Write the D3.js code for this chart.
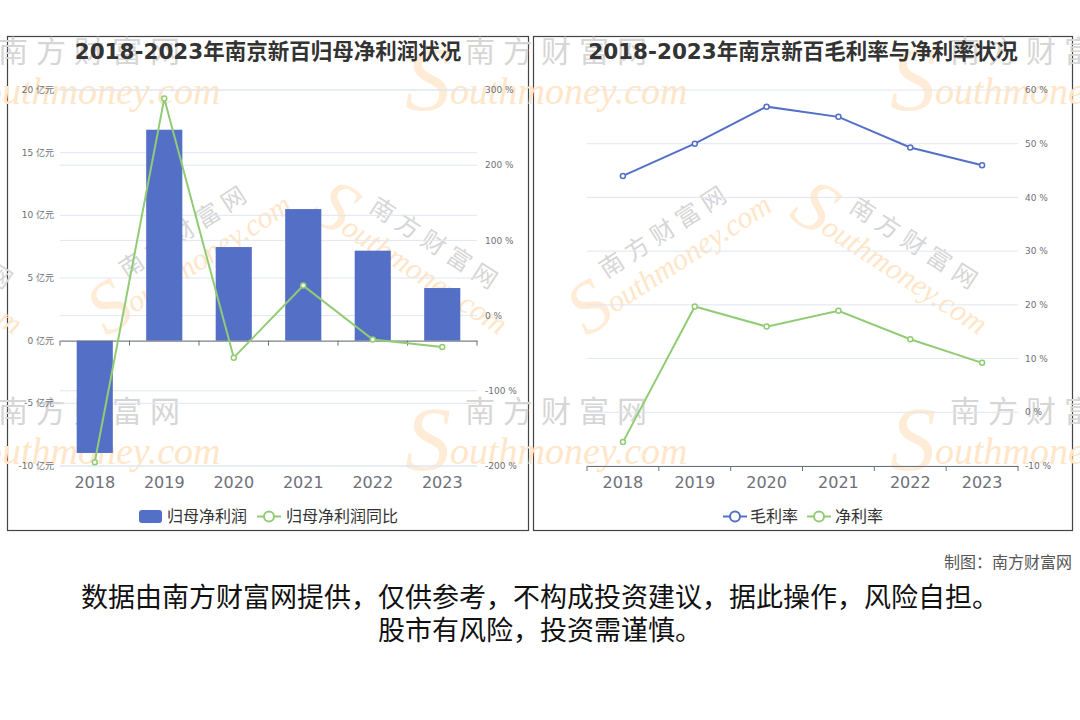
<!DOCTYPE html>
<html><head><meta charset="utf-8">
<script src="https://cdn.jsdelivr.net/npm/d3@7"></script>
<style>
html,body{margin:0;padding:0;background:#fff;}
svg{display:block;font-family:"DejaVu Sans","Noto Sans CJK SC",sans-serif;}
</style></head>
<body>
<svg id="c" width="1080" height="720"></svg>
<script>
// ---- data ----
const years = ["2018","2019","2020","2021","2022","2023"];
const netProfit = [-8.96, 16.83, 7.47, 10.5, 7.18, 4.2];        // 亿元
const netProfitYoY = [-195, 288.6, -55.9, 39.9, -31.9, -41.6];  // %
const grossMargin = [44.0, 50.0, 56.9, 55.0, 49.3, 46.0];      // %
const netMargin = [-5.55, 19.7, 15.95, 18.9, 13.6, 9.2];        // %
const leftTicksL = [-10, -5, 0, 5, 10, 15, 20];
const leftTicksR = [-200, -100, 0, 100, 200, 300];
const rightTicks = [-10, 0, 10, 20, 30, 40, 50, 60];
const title1 = "2018-2023年南京新百归母净利润状况";
const title2 = "2018-2023年南京新百毛利率与净利率状况";
const legend1 = ["归母净利润", "归母净利润同比"];
const legend2 = ["毛利率", "净利率"];
const credit = "制图：南方财富网";
const disclaimer = ["数据由南方财富网提供，仅供参考，不构成投资建议，据此操作，风险自担。", "股市有风险，投资需谨慎。"];

const BLUE = "#5470c6", GREEN = "#91cc75", GRID = "#E0E6F1", AXIS = "#6E7079";
const svg = d3.select("#c");

// panels
svg.append("rect").attr("x",7.5).attr("y",36.5).attr("width",521).attr("height",494)
  .attr("fill","#fff").attr("stroke","#444").attr("stroke-width",1.2);
svg.append("rect").attr("x",533.5).attr("y",36.5).attr("width",539).attr("height",494)
  .attr("fill","#fff").attr("stroke","#444").attr("stroke-width",1.2);

// ===== watermarks (light, behind the chart marks) =====
const wm = svg.append("g").attr("pointer-events","none");
function mark(cx, cy, angle, scale){
  const g = wm.append("g").attr("transform",`translate(${cx},${cy}) rotate(${angle}) scale(${scale})`);
  g.append("text").attr("x",-150).attr("y",40).attr("font-size",92)
    .attr("font-family","Liberation Serif, serif").attr("font-style","italic")
    .attr("fill","#ffecd6").text("S");
  g.append("text").attr("x",-90).attr("y",-8).attr("font-size",30).attr("letter-spacing",8)
    .attr("font-family","Noto Sans CJK SC, sans-serif").attr("fill","#d6d6d6").text("南方财富网");
  g.append("text").attr("x",-105).attr("y",34).attr("font-size",38)
    .attr("font-family","Liberation Serif, serif").attr("font-style","italic")
    .attr("fill","#ffe6c8").text("outhmoney.com");
}
[[88,70],[555,70],[1040,70],[88,430],[555,430],[1040,430]].forEach(p=>mark(p[0],p[1],0,1));
[[190,245,-33],[670,245,-33]].forEach(p=>mark(p[0],p[1],p[2],0.8));
[[-60,255,33],[425,255,33],[905,255,33]].forEach(p=>mark(p[0],p[1],p[2],0.8));

// titles
svg.append("text").attr("x",268).attr("y",59).attr("text-anchor","middle")
  .attr("font-size",21.5).attr("font-weight","bold").attr("fill","#333").text(title1);
svg.append("text").attr("x",803).attr("y",59).attr("text-anchor","middle")
  .attr("font-size",21.5).attr("font-weight","bold").attr("fill","#333").text(title2);

// ===== Left chart =====
const xL = d3.scaleBand().domain(years).range([60,477]).padding(0);
const yL = d3.scaleLinear().domain([-10,20]).range([466,90]);
const yR = d3.scaleLinear().domain([-200,300]).range([466,90]);
const gL = svg.append("g");

gL.append("g").selectAll("line").data(leftTicksL).join("line")
  .attr("x1",60).attr("x2",477).attr("y1",d=>yL(d)).attr("y2",d=>yL(d))
  .attr("stroke",GRID).attr("stroke-width",1);
gL.append("g").selectAll("line").data(leftTicksR).join("line")
  .attr("x1",60).attr("x2",477).attr("y1",d=>yR(d)).attr("y2",d=>yR(d))
  .attr("stroke",GRID).attr("stroke-width",1);

gL.append("g").selectAll("text").data(leftTicksL).join("text")
  .attr("x",54).attr("y",d=>yL(d)).attr("dy","0.35em").attr("text-anchor","end")
  .attr("font-size",9).attr("fill",AXIS).text(d=>d+" 亿元");
gL.append("g").selectAll("text").data(leftTicksR).join("text")
  .attr("x",485).attr("y",d=>yR(d)).attr("dy","0.35em").attr("text-anchor","start")
  .attr("font-size",9).attr("fill",AXIS).text(d=>d+" %");

const bw = xL.bandwidth();
gL.append("g").selectAll("rect").data(years).join("rect")
  .attr("x",d=>xL(d)+bw*0.24).attr("width",bw*0.52)
  .attr("y",(d,i)=>Math.min(yL(netProfit[i]),yL(0)))
  .attr("height",(d,i)=>Math.abs(yL(netProfit[i])-yL(0)))
  .attr("fill",BLUE);

// x axis on zero
const axL = gL.append("g").attr("transform",`translate(0,${yL(0)})`)
  .call(d3.axisBottom(xL).tickSize(0).tickFormat(""));
axL.select(".domain").attr("stroke",AXIS);
gL.append("g").selectAll("line").data(d3.range(years.length+1)).join("line")
  .attr("x1",i=>60+i*bw).attr("x2",i=>60+i*bw).attr("y1",yL(0)).attr("y2",yL(0)+5)
  .attr("stroke",AXIS);
gL.append("g").selectAll("text").data(years).join("text")
  .attr("x",d=>xL(d)+bw/2).attr("y",488).attr("text-anchor","middle")
  .attr("font-size",16).attr("fill",AXIS).text(d=>d);

const lineL = d3.line().x((d,i)=>xL(years[i])+bw/2).y(d=>yR(d));
gL.append("path").datum(netProfitYoY).attr("d",lineL).attr("fill","none")
  .attr("stroke",GREEN).attr("stroke-width",2);
gL.append("g").selectAll("circle").data(netProfitYoY).join("circle")
  .attr("cx",(d,i)=>xL(years[i])+bw/2).attr("cy",d=>yR(d)).attr("r",2.5)
  .attr("fill","#fff").attr("stroke",GREEN).attr("stroke-width",1.5);

// legend left
const lg1 = svg.append("g");
lg1.append("rect").attr("x",139).attr("y",510).attr("width",23).attr("height",13).attr("rx",3).attr("fill",BLUE);
lg1.append("text").attr("x",167).attr("y",522).attr("font-size",16).attr("fill","#333").text(legend1[0]);
lg1.append("line").attr("x1",257).attr("x2",281).attr("y1",516.5).attr("y2",516.5).attr("stroke",GREEN).attr("stroke-width",2);
lg1.append("circle").attr("cx",269).attr("cy",516.5).attr("r",5).attr("fill","#fff").attr("stroke",GREEN).attr("stroke-width",2);
lg1.append("text").attr("x",286).attr("y",522).attr("font-size",16).attr("fill","#333").text(legend1[1]);

// ===== Right chart =====
const x2 = d3.scaleBand().domain(years).range([587,1018]).padding(0);
const y2 = d3.scaleLinear().domain([-10,60]).range([466,90]);
const g2 = svg.append("g");
const bw2 = x2.bandwidth();

g2.append("g").selectAll("line").data(rightTicks).join("line")
  .attr("x1",587).attr("x2",1018).attr("y1",d=>y2(d)).attr("y2",d=>y2(d))
  .attr("stroke",GRID);
g2.append("g").selectAll("text").data(rightTicks).join("text")
  .attr("x",1025).attr("y",d=>y2(d)).attr("dy","0.35em")
  .attr("font-size",9).attr("fill",AXIS).text(d=>d+" %");
const ax2 = g2.append("g").attr("transform",`translate(0,${y2(-10)})`)
  .call(d3.axisBottom(x2).tickSize(0).tickFormat(""));
ax2.select(".domain").attr("stroke",AXIS);
g2.append("g").selectAll("line").data(d3.range(years.length+1)).join("line")
  .attr("x1",i=>587+i*bw2).attr("x2",i=>587+i*bw2).attr("y1",y2(-10)).attr("y2",y2(-10)+5)
  .attr("stroke",AXIS);
g2.append("g").selectAll("text").data(years).join("text")
  .attr("x",d=>x2(d)+bw2/2).attr("y",488).attr("text-anchor","middle")
  .attr("font-size",16).attr("fill",AXIS).text(d=>d);

const line2 = d3.line().x((d,i)=>x2(years[i])+bw2/2).y(d=>y2(d));
[[grossMargin,BLUE],[netMargin,GREEN]].forEach(([arr,col])=>{
  g2.append("path").datum(arr).attr("d",line2).attr("fill","none").attr("stroke",col).attr("stroke-width",2);
  g2.append("g").selectAll("circle").data(arr).join("circle")
    .attr("cx",(d,i)=>x2(years[i])+bw2/2).attr("cy",d=>y2(d)).attr("r",2.5)
    .attr("fill","#fff").attr("stroke",col).attr("stroke-width",1.5);
});

// legend right
const lg2 = svg.append("g");
[[723,BLUE,legend2[0],750],[807,GREEN,legend2[1],835]].forEach(([x,col,t,tx])=>{
  lg2.append("line").attr("x1",x).attr("x2",x+24).attr("y1",516.5).attr("y2",516.5).attr("stroke",col).attr("stroke-width",2);
  lg2.append("circle").attr("cx",x+12).attr("cy",516.5).attr("r",5).attr("fill","#fff").attr("stroke",col).attr("stroke-width",2);
  lg2.append("text").attr("x",tx).attr("y",522).attr("font-size",16).attr("fill","#333").text(t);
});

// ===== footer =====
svg.append("text").attr("x",1072).attr("y",568).attr("text-anchor","end")
  .attr("font-size",16).attr("fill","#555").attr("font-family","Noto Sans CJK SC, sans-serif").text(credit);
disclaimer.forEach((t,i)=>{
  svg.append("text").attr("x",540).attr("y",607+i*33).attr("text-anchor","middle")
    .attr("font-size",27).attr("fill","#111").attr("font-family","Noto Sans CJK SC, sans-serif").text(t);
});
</script>
</body></html>
